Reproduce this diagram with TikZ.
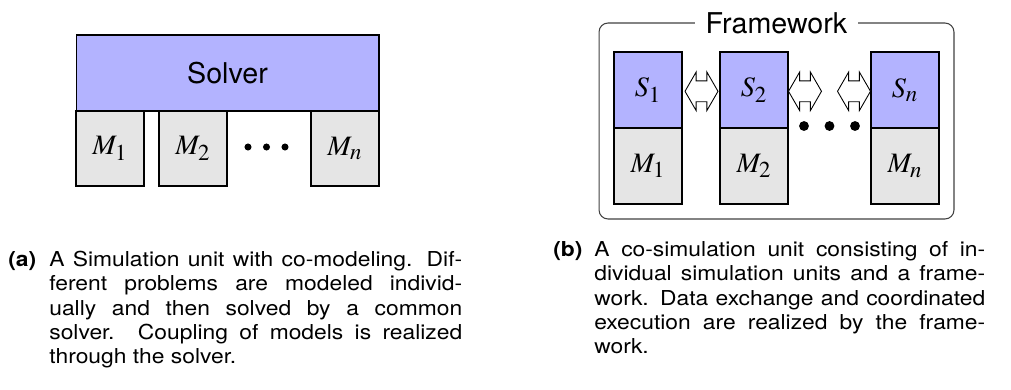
\documentclass[tikz,border=0pt]{standalone}
\usepackage{mathptmx}
\usepackage[no-math]{fontspec}
\setmainfont{TeX Gyre Heros}
\usepackage{xcolor}
\usetikzlibrary{shapes.arrows}

\definecolor{azulsolver}{RGB}{179,179,255}
\definecolor{grismodelo}{RGB}{229,229,229}
\DeclareMathSizes{16}{16}{13}{10}

%texto de las leyendas
\newcommand{\leyendatexto}[3]{\scalebox{1}[0.9]{\parbox[t]{#1}{\fontsize{13}{15.3}\selectfont
	\hyphenpenalty=10000\hangindent=0.82cm\hangafter=1
	\noindent\makebox[0.82cm][l]{\bfseries (#2)}#3}}}

\begin{document}
\begin{tikzpicture}[x=0.02cm, y=-0.02cm,
	bloque/.style={draw, line width=0.6pt, inner sep=0pt, font=\fontsize{16}{19}\selectfont},
	modelo/.style={bloque, fill=grismodelo, minimum width=1.36cm, minimum height=1.5cm},
	simu/.style={bloque, fill=azulsolver, minimum width=1.36cm, minimum height=1.52cm},
	flecha/.style={double arrow, draw, line width=0.5pt, fill=white, inner xsep=0pt, inner ysep=0.2cm,
		minimum height=0.66cm, minimum width=0.75cm,
		double arrow head extend=0.175cm, double arrow tip angle=120},
	leyenda/.style={inner sep=0pt, anchor=base west}
	]
	\useasboundingbox (0,0) rectangle (1011,389);

	%Lado (a): solver comun
		\node[bloque, fill=azulsolver, minimum width=6.06cm, minimum height=1.52cm, font=\fontsize{16.3}{19}\selectfont] (solver) at (227.5,73) {Solver};
		\node[modelo] (ma1) at (110,148.5) {$M_1$};
		\node[modelo] (ma2) at (193,148.5) {$M_2$};
		\node[modelo] (man) at (345,148.5) {$M_n$};
		\foreach \x in {248,266.5,285}
			\fill (\x,147) circle (2pt);

	%Lado (b): framework
		\node[draw=black!75, line width=0.6pt, rounded corners=0.18cm, minimum width=7.1cm, minimum height=3.92cm] (fw) at (776.5,121) {};
		\node[fill=white, inner xsep=0.21cm, inner ysep=1pt, font=\fontsize{16.3}{19}\selectfont] (fwtit) at (776.5,23.5) {Framework};
	%Unidades de simulacion
		\node[simu] (s1) at (648,90) {$S_1$};
		\node[simu] (s2) at (754,90) {$S_2$};
		\node[simu] (sn) at (905,90) {$S_n$};
		\node[modelo, minimum height=1.52cm] (mb1) at (648,166) {$M_1$};
		\node[modelo, minimum height=1.52cm] (mb2) at (754,166) {$M_2$};
		\node[modelo, minimum height=1.52cm] (mbn) at (905,166) {$M_n$};
	%Intercambio de datos
		\node[flecha] (f12) at (701.5,91.3) {};
		\node[flecha] (f2) at (805,91.3) {};
		\node[flecha] (fn) at (854,91.3) {};
		\foreach \x in {804,829.5,855}
			\fill (\x,126) circle (2.8pt);

	%Leyendas
		\node[leyenda] (capa) at (8,266.7) {\leyendatexto{9.08cm}{a}{A Simulation unit with co-modeling. Dif-\linebreak
			ferent problems are modeled individ-\linebreak
			ually and then solved by a common\linebreak
			solver.  Coupling of models is realized\linebreak
			through the solver.}};
		\node[leyenda] (capb) at (553,256.7) {\leyendatexto{8.64cm}{b}{A co-simulation unit consisting of in-\linebreak
			dividual simulation units and a frame-\linebreak
			work.  Data exchange and coordinated\linebreak
			execution are realized by the frame-\linebreak
			work.}};
\end{tikzpicture}
\end{document}
